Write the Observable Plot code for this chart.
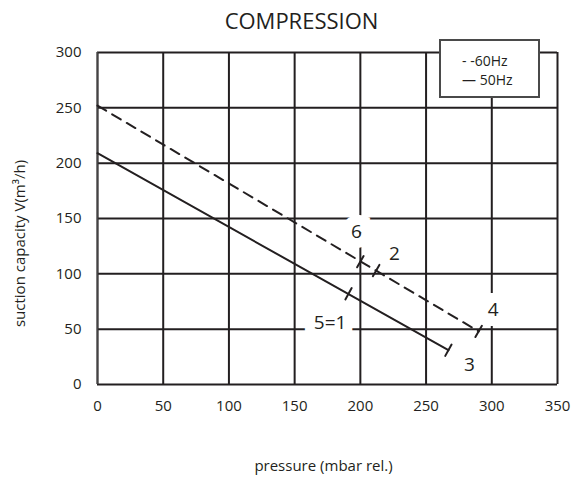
<!DOCTYPE html>
<html>
<head>
<meta charset="utf-8">
<script src="https://cdn.jsdelivr.net/npm/d3@7"></script>
<script src="https://cdn.jsdelivr.net/npm/@observablehq/plot@0.6"></script>
<style>
  html, body { margin: 0; padding: 0; background: #fff; }
  #wrap { position: relative; width: 588px; height: 477px; font-family: "Open Sans", sans-serif; color: #231f20; }
  #legend { position: absolute; left: 439px; top: 39px; width: 97px; height: 55px; border: 2px solid #4a4a4a; background: #fff;
    font-size: 14px; line-height: 18px; box-sizing: content-box; }
  #legend div { position: absolute; left: 21px; white-space: pre; }
</style>
</head>
<body>
<div id="wrap"></div>
<script>
const xTicks = [0, 50, 100, 150, 200, 250, 300, 350];
const yTicks = [0, 50, 100, 150, 200, 250, 300];
const line60 = [{x: 0, y: 252}, {x: 290, y: 48}];
const line50 = [{x: 0, y: 209}, {x: 267, y: 31}];
const marks60 = [{x: 200, y: 111}, {x: 212, y: 103}, {x: 290, y: 48}];
const marks50 = [{x: 191, y: 82}, {x: 267, y: 31}];
const boxedLabels = [
  {x: 197, y: 138, text: "6"},
  {x: 177, y: 56, text: "5=1"},
  {x: 301, y: 67, text: "4"}
];
const plainLabels = [
  {x: 226, y: 118, text: "2"},
  {x: 283, y: 18, text: "3"}
];
const legendItems = ["- -60Hz", "— 50Hz"];
const titleText = "COMPRESSION";
const xLabel = "pressure (mbar rel.)";
const yLabel = "suction capacity V(m³/h)";

const ink = "#231f20";
const tickShape = {draw(ctx, l) { ctx.moveTo(0, 0); ctx.lineTo(0, -l); }};

const plot = Plot.plot({
  width: 588,
  height: 477,
  marginLeft: 97,
  marginRight: 31,
  marginTop: 52,
  marginBottom: 93,
  style: {fontFamily: "Open Sans, sans-serif", color: ink, background: "#fff"},
  x: {domain: [0, 350]},
  y: {domain: [0, 300]},
  marks: [
    Plot.ruleX(xTicks, {stroke: ink, strokeWidth: 2}),
    Plot.ruleY(yTicks, {stroke: ink, strokeWidth: 2}),
    Plot.ruleX([0], {stroke: "#444", strokeWidth: 1.5}),
    Plot.axisX({ticks: xTicks, tickSize: 0, tickPadding: 16, fontSize: 15, label: null}),
    Plot.axisY({ticks: yTicks, tickSize: 0, tickPadding: 16, fontSize: 15, label: null}),
    Plot.text(boxedLabels, {x: "x", y: "y", text: "text", fontSize: 19, fill: ink,
      stroke: "white", strokeWidth: 20, strokeLinejoin: "miter", paintOrder: "stroke"}),
    Plot.text(plainLabels, {x: "x", y: "y", text: "text", fontSize: 19, fill: ink}),
    Plot.line(line60, {x: "x", y: "y", stroke: ink, strokeWidth: 2, strokeDasharray: "10,7"}),
    Plot.line(line50, {x: "x", y: "y", stroke: ink, strokeWidth: 2}),
    Plot.vector(marks60, {x: "x", y: "y", length: 13, rotate: 30, anchor: "middle", shape: tickShape, stroke: ink, strokeWidth: 2}),
    Plot.vector(marks50, {x: "x", y: "y", length: 13, rotate: 29, anchor: "middle", shape: tickShape, stroke: ink, strokeWidth: 2}),
    Plot.text([titleText], {frameAnchor: "top", lineAnchor: "middle", dx: -26, dy: -31, fontSize: 22, fill: ink}),
    Plot.text([xLabel], {frameAnchor: "bottom", lineAnchor: "middle", dx: -4, dy: 82, fontSize: 15, fill: ink}),
    Plot.text([yLabel], {frameAnchor: "left", textAnchor: "middle", rotate: -90, dx: -77, dy: 25, fontSize: 15, fill: ink})
  ]
});
const wrap = document.getElementById("wrap");
wrap.appendChild(plot);
const legend = document.createElement("div");
legend.id = "legend";
legendItems.forEach((t, i) => {
  const d = document.createElement("div");
  d.textContent = t;
  d.style.top = (11 + i * 19) + "px";
  legend.appendChild(d);
});
wrap.appendChild(legend);
</script>
</body>
</html>
